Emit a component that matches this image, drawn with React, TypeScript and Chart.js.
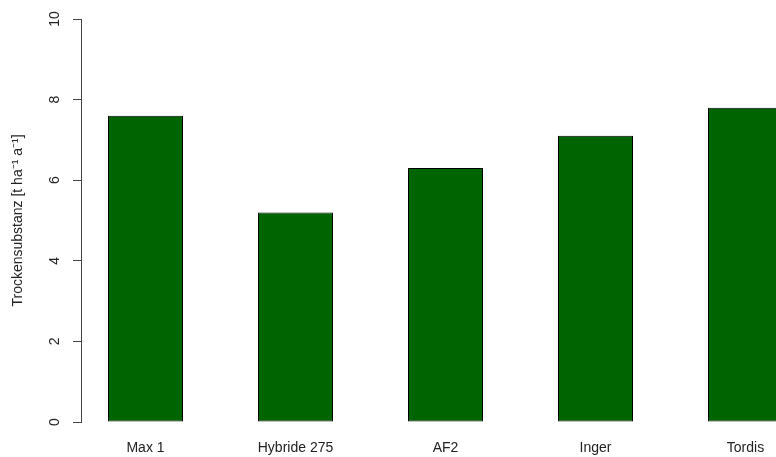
import React, { useEffect, useRef } from "react";
import { Chart, registerables } from "chart.js";

Chart.register(...registerables);

const categories = ["Max 1", "Hybride 275", "AF2", "Inger", "Tordis"];
const values = [7.6, 5.2, 6.3, 7.1, 7.8];
const yTicks = [0, 2, 4, 6, 8, 10];
const yTitle = "Trockensubstanz [t ha\u207B\u00B9 a\u207B\u00B9]";

const FONT = "'Liberation Sans', Arial, sans-serif";

export default function App() {
  const ref = useRef<HTMLCanvasElement | null>(null);

  useEffect(() => {
    const canvas = ref.current;
    if (!canvas) return;
    const pos = (i: number) => 1.5 + 2 * i;
    const chart = new Chart(canvas, {
      type: "bar",
      data: {
        datasets: [
          {
            data: values.map((v, i) => ({ x: pos(i), y: v })),
            backgroundColor: "#006400",
            borderColor: "#000000",
            borderWidth: 1,
            borderSkipped: false,
            barPercentage: 0.5,
            categoryPercentage: 1,
          },
        ],
      },
      options: {
        responsive: false,
        animation: false,
        devicePixelRatio: 1,
        layout: { padding: { top: 19, left: 0, right: 0, bottom: 0 } },
        plugins: { legend: { display: false }, tooltip: { enabled: false } },
        scales: {
          x: {
            type: "linear",
            min: 0.64,
            max: 10.36,
            offset: false,
            border: { display: false },
            grid: { display: false, drawTicks: false },
            afterBuildTicks: (scale: any) => {
              scale.ticks = categories.map((_, i) => ({ value: pos(i) }));
            },
            afterFit: (scale: any) => {
              scale.height = 35;
            },
            ticks: {
              padding: 18,
              color: "#222",
              font: { family: FONT, size: 14 },
              maxRotation: 0,
              minRotation: 0,
              autoSkip: false,
              callback: (_v: any, i: number) => categories[i],
            },
          },
          y: {
            min: 0,
            max: 10,
            afterBuildTicks: (scale: any) => {
              scale.ticks = yTicks.map((v) => ({ value: v }));
            },
            afterFit: (scale: any) => {
              scale.width = 81;
            },
            border: { display: true, color: "#444", width: 1 },
            grid: {
              drawOnChartArea: false,
              drawTicks: true,
              tickLength: 8,
              color: "#444",
            },
            ticks: {
              minRotation: 90,
              maxRotation: 90,
              crossAlign: "center",
              padding: 10,
              color: "#222",
              font: { family: FONT, size: 14 },
              callback: (v: any) => String(v),
            },
            title: {
              display: true,
              text: yTitle,
              color: "#222",
              font: { family: FONT, size: 14 },
              padding: { top: 10, bottom: 0 },
            },
          },
        },
      },
    } as any);
    return () => chart.destroy();
  }, []);

  return (
    <div
      style={{
        position: "fixed",
        left: 0,
        top: 0,
        width: 776,
        height: 457,
        overflow: "hidden",
        background: "#fff",
      }}
    >
      <canvas ref={ref} width={810} height={457} style={{ display: "block" }} />
    </div>
  );
}
